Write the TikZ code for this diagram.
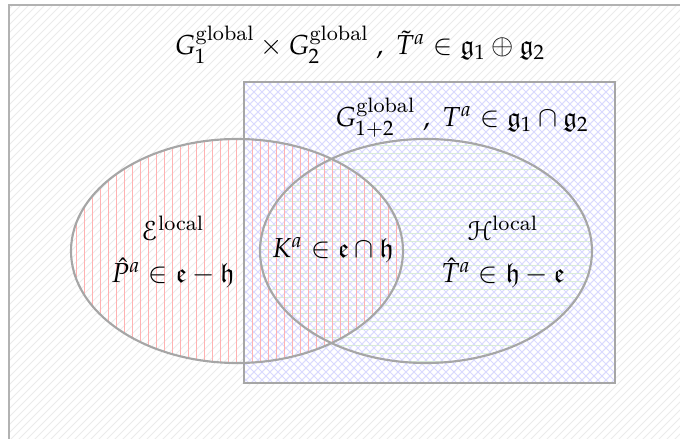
\documentclass[tikz,border=0pt]{standalone}
\usepackage{mathpazo}
\usepackage{amsmath,amssymb}
\usepackage[mathcal]{eucal}
\tikzset{
  frameline/.style={draw=gray!60, line width=1pt},
  setline/.style={draw=gray!70, line width=0.8pt},
  hatchgray/.style={draw=gray!16, line width=0.35pt},
  hatchblue/.style={draw=blue!15, line width=0.35pt},
  hatchred/.style={draw=red!30, line width=0.35pt},
  hatchgreen/.style={draw=green!50!black!15, line width=0.35pt},
  lbl/.style={inner sep=0pt, align=center, font=\fontsize{10.3}{15.5}\selectfont}
}
\begin{document}
\begin{tikzpicture}[x=0.375pt,y=-0.375pt]
\useasboundingbox (0,0) rectangle (680,439);
\clip (0,0) rectangle (680,439);
% outer universe
\begin{scope}
  \clip (9,5) rectangle (700,460);
  \foreach \c in {-456,-448,...,700} \draw[hatchgray] (\c,450) -- ++(460,-460);
\end{scope}
\draw[frameline] (9,5) rectangle (700,460);
% inner rectangle
\begin{scope}
  \clip (244,82) rectangle (615,383);
  \foreach \c in {-456,-448,...,700} \draw[hatchblue] (\c,450) -- ++(460,-460);
  \foreach \c in {-20,-12,...,1150} \draw[hatchblue] (\c,450) -- ++(-460,-460);
\end{scope}
% right ellipse
\begin{scope}
  \clip (426,251) ellipse [x radius=166, y radius=112];
  \foreach \y in {137,145,...,370} \draw[hatchgreen] (250,\y) -- (600,\y);
\end{scope}
% left ellipse
\begin{scope}
  \clip (237,251) ellipse [x radius=166, y radius=112];
  \foreach \x in {68,76,...,410} \draw[hatchred] (\x,130) -- (\x,370);
\end{scope}
\draw[setline] (244,82) rectangle (615,383);
\draw[setline] (237,251) ellipse [x radius=166, y radius=112];
\draw[setline] (426,251) ellipse [x radius=166, y radius=112];
% labels
\node[lbl] (top) at (360,45) {$G_1^{\text{global}}\times G_2^{\text{global}}\;,\;\tilde{T}^a\in\mathfrak{g}_1\oplus\mathfrak{g}_2$};
\node[lbl] (inner) at (462,118) {$G_{1+2}^{\text{global}}\;,\;T^a\in\mathfrak{g}_1\cap\mathfrak{g}_2$};
\node[lbl] (left) at (173,252) {$\mathcal{E}^{\text{local}}$\\$\hat{P}^a\in\mathfrak{e}-\mathfrak{h}$};
\node[lbl] (mid) at (333,250) {$K^a\in\mathfrak{e}\cap\mathfrak{h}$};
\node[lbl] (right) at (503,252) {$\mathcal{H}^{\text{local}}$\\$\hat{T}^a\in\mathfrak{h}-\mathfrak{e}$};
\end{tikzpicture}
\end{document}
